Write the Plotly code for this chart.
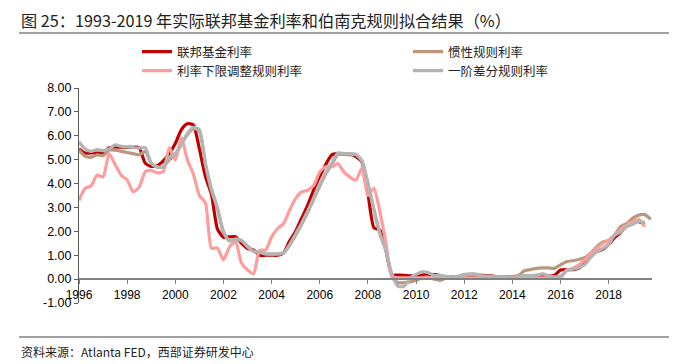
import numpy as np
import plotly.graph_objects as go

# Quarterly time axis 1996Q1 .. 2019Q4 (decimal years)
quarters = np.arange(1996.0, 2019.76, 0.25)

fed_funds = [5.45, 5.28, 5.28, 5.28,
             5.28, 5.50, 5.52, 5.52,
             5.52, 5.52, 5.50, 4.85,
             4.72, 4.75, 4.95, 5.25,
             5.68, 6.25, 6.50, 6.45,
             5.45, 4.30, 3.55, 2.10,
             1.75, 1.77, 1.77, 1.50,
             1.28, 1.22, 1.00, 1.00,
             1.00, 1.00, 1.10, 1.60,
             2.00, 2.55, 3.10, 3.75,
             4.30, 4.80, 5.20, 5.25,
             5.25, 5.25, 5.12, 4.90,
             3.60, 2.15, 2.05, 1.20,
             0.18, 0.17, 0.16, 0.14,
             0.13, 0.18, 0.20, 0.19,
             0.15, 0.10, 0.08, 0.07,
             0.10, 0.15, 0.14, 0.16,
             0.14, 0.12, 0.08, 0.09,
             0.07, 0.09, 0.09, 0.10,
             0.11, 0.13, 0.14, 0.16,
             0.38, 0.40, 0.40, 0.45,
             0.70, 0.95, 1.15, 1.25,
             1.45, 1.75, 1.95, 2.25,
             2.40, 2.40, 2.30, None]

inertia_rule = [5.40, 5.15, 5.10, 5.20,
                5.17, 5.40, 5.40, 5.35,
                5.30, 5.25, 5.20, 5.35,
                4.85, 4.68, 4.70, 5.00,
                5.20, 5.65, 6.05, 6.30,
                6.20, 4.80, 3.70, 2.95,
                1.95, 1.60, 1.65, 1.60,
                1.38, 1.18, 1.12, 1.05,
                1.05, 1.05, 1.10, 1.42,
                1.85, 2.30, 2.80, 3.35,
                3.90, 4.40, 4.80, 5.22,
                5.22, 5.20, 5.20, 4.95,
                4.00, 2.90, 1.90, 1.20,
                0.10, -0.15, -0.15, -0.12,
                -0.05, 0.05, 0.08, 0.00,
                -0.05, 0.05, 0.08, 0.10,
                0.15, 0.20, 0.20, 0.15,
                0.12, 0.10, 0.10, 0.10,
                0.10, 0.15, 0.35, 0.40,
                0.45, 0.47, 0.47, 0.45,
                0.60, 0.73, 0.77, 0.82,
                0.90, 1.07, 1.35, 1.55,
                1.62, 1.85, 2.20, 2.33,
                2.55, 2.68, 2.70, 2.50]

zlb_rule = [3.30, 3.80, 3.90, 4.35,
            4.28, 5.25, 4.80, 4.35,
            4.15, 3.65, 3.85, 4.50,
            4.55, 4.45, 4.50, 5.50,
            4.98, 5.90, 5.00, 4.40,
            3.50, 3.20, 1.30, 1.30,
            0.80, 1.35, 1.56, 0.66,
            0.38, 0.22, 1.21, 1.21,
            1.77, 2.12, 2.33, 2.89,
            3.38, 3.65, 3.72, 3.93,
            4.49, 4.70, 4.70, 4.84,
            4.49, 4.28, 4.14, 4.65,
            3.50, 3.80, 2.80, 1.50,
            0.10, 0.05, 0.05, 0.05,
            0.05, 0.05, 0.05, 0.05,
            0.05, 0.05, 0.05, 0.05,
            0.05, 0.05, 0.05, 0.05,
            0.05, 0.05, 0.05, 0.05,
            0.05, 0.05, 0.05, 0.05,
            0.05, 0.05, 0.05, 0.05,
            0.05, 0.38, 0.45, 0.59,
            0.80, 1.07, 1.28, 1.49,
            1.63, 1.84, 2.08, 2.26,
            2.40, 2.50, 2.20, None]

first_diff_rule = [5.75, 5.45, 5.35, 5.42,
                   5.38, 5.45, 5.62, 5.56,
                   5.54, 5.50, 5.48, 5.50,
                   4.85, 4.70, 4.70, 5.10,
                   5.25, 5.65, 6.10, 6.35,
                   6.25, 4.85, 3.80, 3.00,
                   2.00, 1.60, 1.68, 1.62,
                   1.35, 1.15, 1.14, 1.05,
                   1.05, 1.05, 1.10, 1.45,
                   1.90, 2.35, 2.85, 3.40,
                   3.95, 4.45, 4.85, 5.28,
                   5.25, 5.25, 5.22, 4.95,
                   4.00, 2.90, 1.90, 1.20,
                   0.20, -0.30, -0.30, 0.05,
                   0.20, 0.30, 0.28, 0.15,
                   0.15, 0.12, 0.08, 0.12,
                   0.20, 0.22, 0.20, 0.12,
                   0.12, 0.10, 0.10, 0.08,
                   0.02, 0.12, 0.15, 0.15,
                   0.17, 0.22, 0.15, 0.10,
                   0.12, 0.35, 0.42, 0.48,
                   0.60, 0.90, 1.15, 1.28,
                   1.45, 1.85, 1.97, 2.20,
                   2.30, 2.42, 2.36, None]

series_names = ["联邦基金利率", "惯性规则利率", "利率下限调整规则利率", "一阶差分规则利率"]
series_colors = ["#C00000", "#B8977A", "#FF9C9C", "#B4B4B4"]
series_legends = ["legend", "legend", "legend2", "legend2"]
y_ticks = [-1, 0, 1, 2, 3, 4, 5, 6, 7, 8]
x_ticks = list(range(1996, 2019, 2))

title_text = "图 25：1993-2019 年实际联邦基金利率和伯南克规则拟合结果（%）"
source_text = "资料来源：Atlanta FED，西部证券研发中心"

CJK = "Noto Sans CJK SC"
LAT = "Liberation Sans, Arial"

fig = go.Figure()
for name, vals, col, lg in zip(series_names,
                               [fed_funds, inertia_rule, zlb_rule, first_diff_rule],
                               series_colors, series_legends):
    fig.add_trace(go.Scatter(
        x=quarters, y=vals, name=name, mode="lines",
        line=dict(color=col, width=3.2, shape="spline", smoothing=0.6),
        legend=lg, connectgaps=False,
    ))

# The page body has an 8px margin: the figure is drawn from (8, 8).
OFF = 8
PAGE_W, PAGE_H = 677, 364
W, H = PAGE_W - OFF, PAGE_H - OFF
# plot area in page pixels
PL, PR, PT, PB = 79, 652, 88, 303
L, T = PL - OFF, PT - OFF
R, B = W - (PR - OFF), H - (PB - OFF)
pw = W - L - R
ph = H - T - B

def xpx(p):          # page px -> paper x
    return (p - OFF - L) / pw

def ypx(p):          # page px -> paper y
    return (H - B - (p - OFF)) / ph

legend_common = dict(orientation="h", xanchor="left", yanchor="middle",
                     entrywidth=226, entrywidthmode="pixels",
                     font=dict(family=CJK, size=12.5, color="#222222"),
                     bgcolor="rgba(0,0,0,0)", itemwidth=30, borderwidth=0)

fig.update_layout(
    width=W, height=H,
    margin=dict(l=L, r=R, t=T, b=B, pad=0, autoexpand=False),
    paper_bgcolor="white", plot_bgcolor="white",
    font=dict(family=LAT, size=12, color="#000000"),
    title=dict(text=title_text, x=(21 - OFF) / W, xanchor="left", xref="container",
               y=1 - (21 - OFF) / H, yanchor="middle", yref="container",
               font=dict(family=CJK, size=16.2, color="#222222")),
    showlegend=True,
    legend=dict(x=xpx(137), y=ypx(52), **legend_common),
    legend2=dict(x=xpx(137), y=ypx(71), **legend_common),
    xaxis=dict(range=[1996, 2019.8], tickmode="array", tickvals=x_ticks,
               ticktext=[str(t) for t in x_ticks],
               showgrid=False, zeroline=False, showline=True,
               linecolor="#808080", linewidth=2, ticks="outside", ticklen=4,
               tickcolor="#808080", anchor="free", position=1 / 9,
               tickfont=dict(family=LAT, size=12, color="#000000")),
    yaxis=dict(range=[-1, 8], tickmode="array", tickvals=y_ticks,
               ticktext=[f"{v:.2f}" for v in y_ticks],
               showgrid=False, zeroline=False, showline=True,
               linecolor="#595959", linewidth=1, ticks="outside", ticklen=4,
               tickcolor="#595959", ticklabelstandoff=0,
               tickfont=dict(family=LAT, size=12.5, color="#000000")),
    shapes=[
        dict(type="line", xref="paper", yref="paper",
             x0=xpx(19), x1=xpx(680), y0=ypx(33), y1=ypx(33),
             line=dict(color="#808080", width=1.5)),
        dict(type="line", xref="paper", yref="paper",
             x0=xpx(19), x1=xpx(680), y0=ypx(337), y1=ypx(337),
             line=dict(color="#808080", width=1.5)),
    ],
    annotations=[
        dict(text=source_text, xref="paper", yref="paper",
             x=xpx(19), y=ypx(351), xanchor="left", yanchor="middle",
             showarrow=False, font=dict(family=CJK, size=12, color="#222222")),
    ],
)

fig.write_html("out.html")
